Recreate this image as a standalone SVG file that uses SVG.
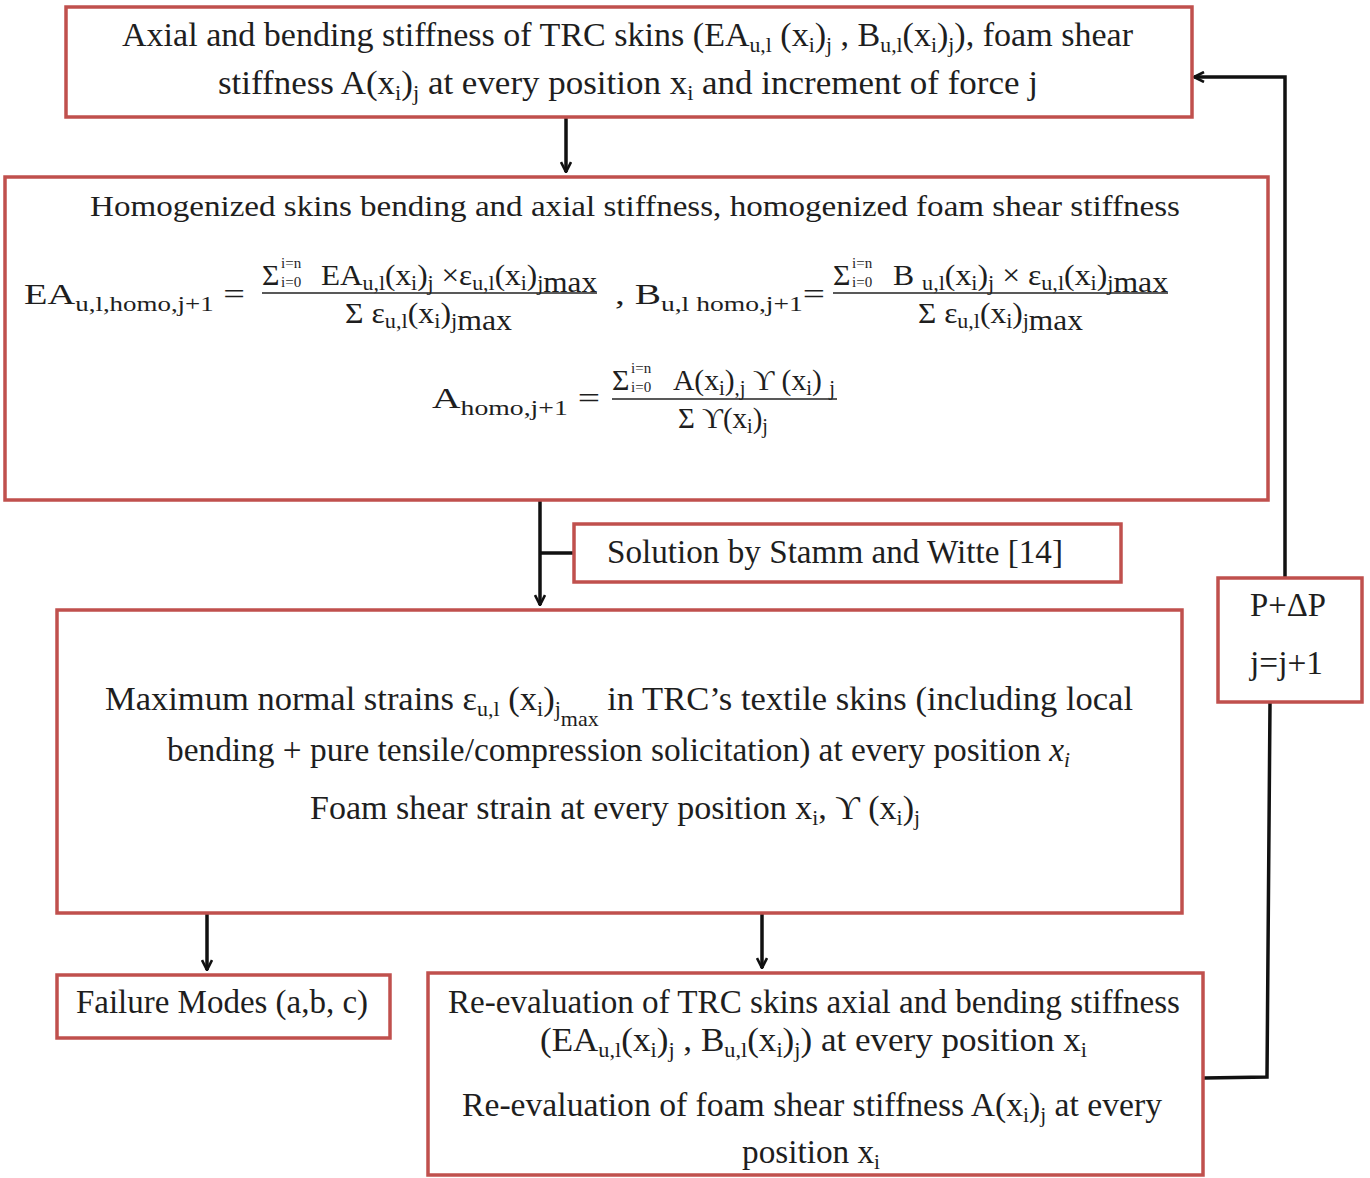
<svg xmlns="http://www.w3.org/2000/svg" width="1370" height="1178" viewBox="0 0 1370 1178">
<style>
.box{fill:#fff;stroke:#c0504d;stroke-width:3.5}
.t{font-family:"Liberation Serif","Times New Roman",serif;font-size:33px;fill:#1e1e1e}
.m{font-family:"Liberation Serif","Times New Roman",serif;font-size:30px;fill:#1e1e1e}
.s{font-size:21px}
.lim{font-family:"Liberation Serif",serif;font-size:15px;fill:#1e1e1e}
.c{fill:none;stroke:#111;stroke-width:3.5}
.bar{stroke:#222;stroke-width:1.6}
</style>
<defs>
<marker id="ah" viewBox="0 0 12 12" refX="11" refY="6" markerWidth="12" markerHeight="12" markerUnits="userSpaceOnUse" orient="auto">
<path d="M1,1 L11,6 L1,11" fill="none" stroke="#111" stroke-width="2.6"/>
</marker>
</defs>
<rect width="1370" height="1178" fill="#fff"/>

<g id="connectors">
<line class="c" x1="566" y1="118" x2="566" y2="172" marker-end="url(#ah)"/>
<line class="c" x1="540" y1="501" x2="540" y2="605" marker-end="url(#ah)"/>
<line class="c" x1="540" y1="553" x2="574" y2="553"/>
<line class="c" x1="207" y1="914" x2="207" y2="970" marker-end="url(#ah)"/>
<line class="c" x1="762" y1="914" x2="762" y2="968" marker-end="url(#ah)"/>
<polyline class="c" points="1204,1078 1267,1077 1270,703"/>
<polyline class="c" points="1285,577 1285,77 1194,77" marker-end="url(#ah)"/>
</g>

<g id="node-input">
<rect class="box" x="66" y="7" width="1126" height="110"/>
<text class="t" x="122" y="46" textLength="1011" lengthAdjust="spacingAndGlyphs">Axial and bending stiffness of TRC skins (EA<tspan class="s" dy="6">u,l</tspan><tspan dy="-6"> (x</tspan><tspan class="s" dy="6">i</tspan><tspan dy="-6">)</tspan><tspan class="s" dy="6">j</tspan><tspan dy="-6"> , B</tspan><tspan class="s" dy="6">u,l</tspan><tspan dy="-6">(x</tspan><tspan class="s" dy="6">i</tspan><tspan dy="-6">)</tspan><tspan class="s" dy="6">j</tspan><tspan dy="-6">), foam shear</tspan></text>
<text class="t" x="218" y="94" textLength="820" lengthAdjust="spacingAndGlyphs">stiffness A(x<tspan class="s" dy="6">i</tspan><tspan dy="-6">)</tspan><tspan class="s" dy="6">j</tspan><tspan dy="-6"> at every position x</tspan><tspan class="s" dy="6">i</tspan><tspan dy="-6"> and increment of force j</tspan></text>
</g>

<g id="node-homogenized">
<rect class="box" x="5" y="177" width="1263" height="323"/>
<text class="m" x="90" y="216" textLength="1090" lengthAdjust="spacingAndGlyphs">Homogenized skins bending and axial stiffness, homogenized foam shear stiffness</text>
<text class="m" x="24" y="304" textLength="221" lengthAdjust="spacingAndGlyphs">EA<tspan class="s" dy="7">u,l,homo,j+1</tspan><tspan dy="-7"> =</tspan></text>
<text class="m" x="262" y="285" font-size="26">Σ</text>
<text class="lim" x="281" y="268">i=n</text>
<text class="lim" x="281" y="287">i=0</text>
<text class="m" x="321" y="285" font-size="24" textLength="276" lengthAdjust="spacingAndGlyphs">EA<tspan class="s" dy="5">u,l</tspan><tspan dy="-5">(x</tspan><tspan class="s" dy="5">i</tspan><tspan dy="-5">)</tspan><tspan class="s" dy="5">j</tspan><tspan dy="-5"> ×ε</tspan><tspan class="s" dy="5">u,l</tspan><tspan dy="-5">(x</tspan><tspan class="s" dy="5">i</tspan><tspan dy="-5">)</tspan><tspan class="s" dy="5">j</tspan><tspan dy="2">max</tspan></text>
<line class="bar" x1="262" y1="293" x2="597" y2="293"/>
<text class="m" x="345" y="323" font-size="24" textLength="167" lengthAdjust="spacingAndGlyphs">Σ ε<tspan class="s" dy="5">u,l</tspan><tspan dy="-5">(x</tspan><tspan class="s" dy="5">i</tspan><tspan dy="-5">)</tspan><tspan class="s" dy="5">j</tspan><tspan dy="2">max</tspan></text>
<text class="m" x="615" y="304" textLength="210" lengthAdjust="spacingAndGlyphs">, B<tspan class="s" dy="7">u,l homo,j+1</tspan><tspan dy="-7">=</tspan></text>
<text class="m" x="833" y="285" font-size="26">Σ</text>
<text class="lim" x="852" y="268">i=n</text>
<text class="lim" x="852" y="287">i=0</text>
<text class="m" x="893" y="285" font-size="24" textLength="275" lengthAdjust="spacingAndGlyphs">B <tspan class="s" dy="5">u,l</tspan><tspan dy="-5">(x</tspan><tspan class="s" dy="5">i</tspan><tspan dy="-5">)</tspan><tspan class="s" dy="5">j</tspan><tspan dy="-5"> ×  ε</tspan><tspan class="s" dy="5">u,l</tspan><tspan dy="-5">(x</tspan><tspan class="s" dy="5">i</tspan><tspan dy="-5">)</tspan><tspan class="s" dy="5">j</tspan><tspan dy="2">max</tspan></text>
<line class="bar" x1="833" y1="293" x2="1168" y2="293"/>
<text class="m" x="918" y="323" font-size="24" textLength="165" lengthAdjust="spacingAndGlyphs">Σ ε<tspan class="s" dy="5">u,l</tspan><tspan dy="-5">(x</tspan><tspan class="s" dy="5">i</tspan><tspan dy="-5">)</tspan><tspan class="s" dy="5">j</tspan><tspan dy="2">max</tspan></text>
<text class="m" x="432" y="408" textLength="168" lengthAdjust="spacingAndGlyphs">A<tspan class="s" dy="7">homo,j+1</tspan><tspan dy="-7"> =</tspan></text>
<text class="m" x="612" y="390" font-size="26">Σ</text>
<text class="lim" x="631" y="373">i=n</text>
<text class="lim" x="631" y="392">i=0</text>
<text class="m" x="673" y="390" font-size="24" textLength="162" lengthAdjust="spacingAndGlyphs">A(x<tspan class="s" dy="5">i</tspan><tspan dy="-5">)</tspan><tspan class="s" dy="5">,j</tspan><tspan dy="-5"> ϒ (x</tspan><tspan class="s" dy="5">i</tspan><tspan dy="-5">) </tspan><tspan class="s" dy="5">j</tspan></text>
<line class="bar" x1="612" y1="399" x2="837" y2="399"/>
<text class="m" x="678" y="428" font-size="24" textLength="90" lengthAdjust="spacingAndGlyphs">Σ ϒ(x<tspan class="s" dy="5">i</tspan><tspan dy="-5">)</tspan><tspan class="s" dy="5">j</tspan></text>
</g>

<g id="node-solution">
<rect class="box" x="574" y="524" width="547" height="58"/>
<text class="t" x="607" y="563" textLength="456" lengthAdjust="spacingAndGlyphs">Solution by Stamm and Witte [14]</text>
</g>

<g id="node-strains">
<rect class="box" x="57" y="610" width="1125" height="303"/>
<text class="t" x="105" y="710" textLength="1028" lengthAdjust="spacingAndGlyphs">Maximum normal strains ε<tspan class="s" dy="6">u,l</tspan><tspan dy="-6"> (x</tspan><tspan class="s" dy="6">i</tspan><tspan dy="-6">)</tspan><tspan class="s" dy="6">j</tspan><tspan class="s" dy="10">max</tspan><tspan dy="-16"> in TRC’s textile skins (including local</tspan></text>
<text class="t" x="167" y="761" textLength="903" lengthAdjust="spacingAndGlyphs">bending + pure tensile/compression solicitation) at every position <tspan font-style="italic">x</tspan><tspan class="s" dy="6" font-style="italic">i</tspan></text>
<text class="t" x="310" y="819" textLength="610" lengthAdjust="spacingAndGlyphs">Foam shear strain at every position x<tspan class="s" dy="6">i</tspan><tspan dy="-6">, ϒ (x</tspan><tspan class="s" dy="6">i</tspan><tspan dy="-6">)</tspan><tspan class="s" dy="6">j</tspan></text>
</g>

<g id="node-failure">
<rect class="box" x="57" y="975" width="333" height="63"/>
<text class="t" x="76" y="1013" textLength="292" lengthAdjust="spacingAndGlyphs">Failure Modes (a,b, c)</text>
</g>

<g id="node-reevaluation">
<rect class="box" x="428" y="973" width="775" height="202"/>
<text class="t" x="448" y="1013" textLength="732" lengthAdjust="spacingAndGlyphs">Re-evaluation of TRC skins axial and bending stiffness</text>
<text class="t" x="540" y="1051" textLength="547" lengthAdjust="spacingAndGlyphs">(EA<tspan class="s" dy="6">u,l</tspan><tspan dy="-6">(x</tspan><tspan class="s" dy="6">i</tspan><tspan dy="-6">)</tspan><tspan class="s" dy="6">j</tspan><tspan dy="-6"> , B</tspan><tspan class="s" dy="6">u,l</tspan><tspan dy="-6">(x</tspan><tspan class="s" dy="6">i</tspan><tspan dy="-6">)</tspan><tspan class="s" dy="6">j</tspan><tspan dy="-6">) at every position x</tspan><tspan class="s" dy="6">i</tspan></text>
<text class="t" x="462" y="1116" textLength="700" lengthAdjust="spacingAndGlyphs">Re-evaluation of foam shear stiffness A(x<tspan class="s" dy="6">i</tspan><tspan dy="-6">)</tspan><tspan class="s" dy="6">j</tspan><tspan dy="-6"> at every</tspan></text>
<text class="t" x="742" y="1163" textLength="138" lengthAdjust="spacingAndGlyphs">position x<tspan class="s" dy="6">i</tspan></text>
</g>

<g id="node-increment">
<rect class="box" x="1218" y="578" width="144" height="124"/>
<text class="t" x="1250" y="616" font-size="28" textLength="76" lengthAdjust="spacingAndGlyphs">P+ΔP</text>
<text class="t" x="1250" y="674" font-size="28" textLength="73" lengthAdjust="spacingAndGlyphs">j=j+1</text>
</g>
</svg>
